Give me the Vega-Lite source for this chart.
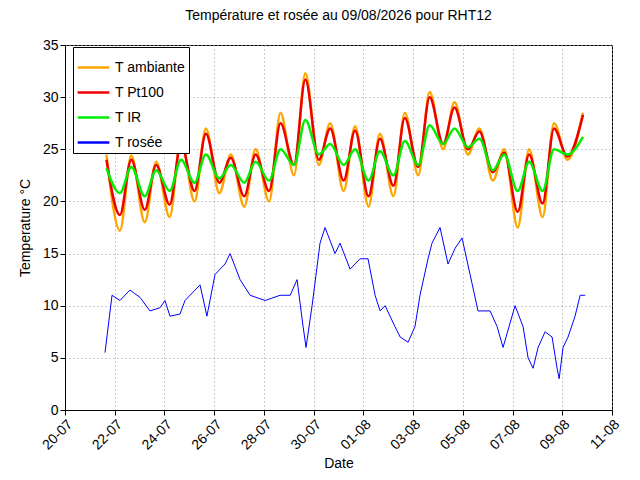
{
  "$schema": "https://vega.github.io/schema/vega-lite/v6.json",
  "width": 547,
  "height": 365,
  "autosize": {"type": "none"},
  "padding": {"left": 65, "top": 45, "right": 28, "bottom": 70},
  "background": "white",
  "config": {
    "font": "Liberation Sans",
    "view": {"stroke": "black", "strokeWidth": 1},
    "axis": {"labelFont": "Liberation Sans", "titleFont": "Liberation Sans", "labelFontSize": 14, "titleFontSize": 14, "titleFontWeight": "normal", "labelColor": "black", "titleColor": "black", "domainColor": "black", "tickColor": "black", "gridColor": "#999999", "gridDash": [1, 3], "tickSize": 5}
  },
  "title": {"text": "Température et rosée au 09/08/2026 pour RHT12", "fontSize": 14, "fontWeight": "normal", "font": "Liberation Sans", "offset": 15},
  "datasets": {
    "temps": [
      {"t": "2026-07-21T16:00", "amb": 24.5, "pt": 24, "ir": 23.2},
      {"t": "2026-07-22T05:00", "amb": 17.2, "pt": 18.7, "ir": 20.8},
      {"t": "2026-07-22T16:00", "amb": 24.4, "pt": 24, "ir": 23.3},
      {"t": "2026-07-23T05:00", "amb": 18, "pt": 19.2, "ir": 20.5},
      {"t": "2026-07-23T16:00", "amb": 23.8, "pt": 23.5, "ir": 23},
      {"t": "2026-07-24T05:00", "amb": 18.5, "pt": 19.7, "ir": 21},
      {"t": "2026-07-24T16:00", "amb": 26, "pt": 25.5, "ir": 24},
      {"t": "2026-07-25T05:00", "amb": 20, "pt": 21, "ir": 21.8},
      {"t": "2026-07-25T16:00", "amb": 27, "pt": 26.5, "ir": 24.5},
      {"t": "2026-07-26T05:00", "amb": 20.8, "pt": 21.8, "ir": 22.2},
      {"t": "2026-07-26T16:00", "amb": 24.5, "pt": 24.2, "ir": 23.5},
      {"t": "2026-07-27T05:00", "amb": 19.5, "pt": 20.5, "ir": 21.8},
      {"t": "2026-07-27T16:00", "amb": 25, "pt": 24.5, "ir": 23.8},
      {"t": "2026-07-28T05:00", "amb": 20, "pt": 21, "ir": 22},
      {"t": "2026-07-28T16:00", "amb": 28.5, "pt": 27.5, "ir": 25},
      {"t": "2026-07-29T05:00", "amb": 22.5, "pt": 23.5, "ir": 23.5},
      {"t": "2026-07-29T16:00", "amb": 32.3, "pt": 31.7, "ir": 27.8},
      {"t": "2026-07-30T05:00", "amb": 23.5, "pt": 24, "ir": 24.5},
      {"t": "2026-07-30T16:00", "amb": 27.5, "pt": 27, "ir": 25.5},
      {"t": "2026-07-31T05:00", "amb": 21, "pt": 22, "ir": 23.5},
      {"t": "2026-07-31T16:00", "amb": 27.2, "pt": 26.8, "ir": 25},
      {"t": "2026-08-01T05:00", "amb": 19.5, "pt": 20.5, "ir": 22},
      {"t": "2026-08-01T16:00", "amb": 26.5, "pt": 26, "ir": 24.8},
      {"t": "2026-08-02T05:00", "amb": 20.5, "pt": 21.5, "ir": 22.5},
      {"t": "2026-08-02T16:00", "amb": 28.5, "pt": 28, "ir": 25.8},
      {"t": "2026-08-03T05:00", "amb": 22.5, "pt": 23.3, "ir": 23.5},
      {"t": "2026-08-03T16:00", "amb": 30.5, "pt": 30, "ir": 27.3},
      {"t": "2026-08-04T05:00", "amb": 25, "pt": 25.5, "ir": 25.5},
      {"t": "2026-08-04T16:00", "amb": 29.5, "pt": 29, "ir": 27},
      {"t": "2026-08-05T05:00", "amb": 24.5, "pt": 25, "ir": 25.2},
      {"t": "2026-08-05T16:00", "amb": 27, "pt": 26.7, "ir": 26},
      {"t": "2026-08-06T05:00", "amb": 22, "pt": 22.8, "ir": 23},
      {"t": "2026-08-06T16:00", "amb": 25, "pt": 24.7, "ir": 24.5},
      {"t": "2026-08-07T05:00", "amb": 17.5, "pt": 19, "ir": 21},
      {"t": "2026-08-07T16:00", "amb": 25, "pt": 24.5, "ir": 23.8},
      {"t": "2026-08-08T05:00", "amb": 18.5, "pt": 19.8, "ir": 21},
      {"t": "2026-08-08T16:00", "amb": 27.5, "pt": 27, "ir": 25},
      {"t": "2026-08-09T05:00", "amb": 24, "pt": 24.3, "ir": 24.5},
      {"t": "2026-08-09T20:00", "amb": 28.5, "pt": 28.3, "ir": 26.2}
    ],
    "dew": [
      {"t": "2026-07-21T14:37", "rosee": 5.5},
      {"t": "2026-07-21T21:23", "rosee": 11},
      {"t": "2026-07-22T05:00", "rosee": 10.5},
      {"t": "2026-07-22T14:40", "rosee": 11.5},
      {"t": "2026-07-23T00:25", "rosee": 10.8},
      {"t": "2026-07-23T10:00", "rosee": 9.5},
      {"t": "2026-07-23T19:40", "rosee": 9.8},
      {"t": "2026-07-24T00:30", "rosee": 10.5},
      {"t": "2026-07-24T05:20", "rosee": 9},
      {"t": "2026-07-24T15:00", "rosee": 9.2},
      {"t": "2026-07-24T19:50", "rosee": 10.5},
      {"t": "2026-07-25T10:20", "rosee": 12},
      {"t": "2026-07-25T17:00", "rosee": 9},
      {"t": "2026-07-26T00:50", "rosee": 13},
      {"t": "2026-07-26T10:30", "rosee": 14},
      {"t": "2026-07-26T15:20", "rosee": 15},
      {"t": "2026-07-27T01:00", "rosee": 12.5},
      {"t": "2026-07-27T10:40", "rosee": 11},
      {"t": "2026-07-28T01:10", "rosee": 10.5},
      {"t": "2026-07-28T15:40", "rosee": 11},
      {"t": "2026-07-29T01:20", "rosee": 11},
      {"t": "2026-07-29T08:00", "rosee": 12.5},
      {"t": "2026-07-29T13:50", "rosee": 8},
      {"t": "2026-07-29T16:40", "rosee": 6},
      {"t": "2026-07-29T22:30", "rosee": 10},
      {"t": "2026-07-30T06:10", "rosee": 16},
      {"t": "2026-07-30T11:00", "rosee": 17.5},
      {"t": "2026-07-30T20:40", "rosee": 15},
      {"t": "2026-07-31T01:30", "rosee": 16},
      {"t": "2026-07-31T11:10", "rosee": 13.5},
      {"t": "2026-07-31T20:50", "rosee": 14.5},
      {"t": "2026-08-01T04:30", "rosee": 14.5},
      {"t": "2026-08-01T11:20", "rosee": 11},
      {"t": "2026-08-01T16:10", "rosee": 9.5},
      {"t": "2026-08-01T21:00", "rosee": 10},
      {"t": "2026-08-02T06:30", "rosee": 8},
      {"t": "2026-08-02T11:30", "rosee": 7},
      {"t": "2026-08-02T19:10", "rosee": 6.5},
      {"t": "2026-08-03T01:50", "rosee": 8},
      {"t": "2026-08-03T06:40", "rosee": 11},
      {"t": "2026-08-03T14:25", "rosee": 14.5},
      {"t": "2026-08-03T18:15", "rosee": 16},
      {"t": "2026-08-04T02:00", "rosee": 17.5},
      {"t": "2026-08-04T09:45", "rosee": 14},
      {"t": "2026-08-04T16:30", "rosee": 15.5},
      {"t": "2026-08-04T23:15", "rosee": 16.5},
      {"t": "2026-08-05T07:00", "rosee": 13},
      {"t": "2026-08-05T14:40", "rosee": 9.5},
      {"t": "2026-08-06T02:20", "rosee": 9.5},
      {"t": "2026-08-06T09:05", "rosee": 8},
      {"t": "2026-08-06T14:50", "rosee": 6},
      {"t": "2026-08-07T02:25", "rosee": 10},
      {"t": "2026-08-07T10:10", "rosee": 8},
      {"t": "2026-08-07T15:00", "rosee": 5},
      {"t": "2026-08-07T19:50", "rosee": 4},
      {"t": "2026-08-08T00:40", "rosee": 6},
      {"t": "2026-08-08T07:25", "rosee": 7.5},
      {"t": "2026-08-08T14:10", "rosee": 7},
      {"t": "2026-08-08T19:00", "rosee": 4},
      {"t": "2026-08-08T21:00", "rosee": 3},
      {"t": "2026-08-09T00:45", "rosee": 6},
      {"t": "2026-08-09T05:35", "rosee": 7},
      {"t": "2026-08-09T12:20", "rosee": 9},
      {"t": "2026-08-09T17:15", "rosee": 11},
      {"t": "2026-08-09T22:05", "rosee": 11}
    ]
  },
  "layer": [
    {
      "data": {"name": "temps"},
      "transform": [{"fold": ["amb", "pt", "ir"], "as": ["serie", "val"]},
        {"lookup": "serie", "from": {"data": {"values": [{"k": "amb", "n": "T ambiante"}, {"k": "pt", "n": "T Pt100"}, {"k": "ir", "n": "T IR"}]}, "key": "k", "fields": ["n"]}}],
      "mark": {"type": "line", "interpolate": "monotone", "strokeWidth": 2.5},
      "encoding": {
        "x": {"field": "t", "type": "temporal", "title": "Date",
          "scale": {"domain": ["2026-07-20T00:00", "2026-08-11T00:00"]},
          "axis": {"format": "%d-%m", "labelAngle": -45, "labelAlign": "right", "labelBaseline": "top",
            "values": ["2026-07-20T00:00", "2026-07-22T00:00", "2026-07-24T00:00", "2026-07-26T00:00", "2026-07-28T00:00", "2026-07-30T00:00", "2026-08-01T00:00", "2026-08-03T00:00", "2026-08-05T00:00", "2026-08-07T00:00", "2026-08-09T00:00", "2026-08-11T00:00"]}},
        "y": {"field": "val", "type": "quantitative", "title": "Temperature °C",
          "scale": {"domain": [0, 35], "nice": false}, "axis": {"values": [0, 5, 10, 15, 20, 25, 30, 35], "titlePadding": 10}},
        "color": {"field": "n", "type": "nominal",
          "scale": {"domain": ["T ambiante", "T Pt100", "T IR", "T rosée"], "range": ["#ffa500", "#ee0000", "#00ee00", "#0000ff"]},
          "sort": ["T ambiante", "T Pt100", "T IR", "T rosée"],
          "legend": {"title": null, "orient": "none", "legendX": 8, "legendY": 2, "strokeColor": "black", "fillColor": "white", "padding": 3, "symbolType": "stroke", "symbolStrokeWidth": 2.5, "symbolSize": 1000, "labelFontSize": 14, "labelColor": "black", "rowPadding": 0}},
        "order": {"field": "serie", "sort": "ascending"}
      }
    },
    {
      "data": {"name": "dew"},
      "transform": [{"calculate": "'T rosée'", "as": "n"}],
      "mark": {"type": "line", "strokeWidth": 1},
      "encoding": {
        "x": {"field": "t", "type": "temporal"},
        "y": {"field": "rosee", "type": "quantitative"},
        "color": {"field": "n", "type": "nominal"}
      }
    }
  ]
}
